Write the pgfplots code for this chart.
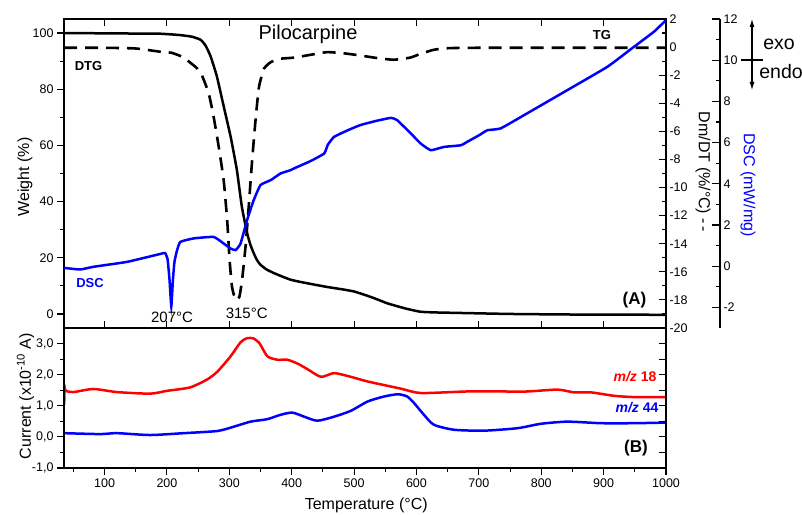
\documentclass[border=0pt]{standalone}
\usepackage{fontspec}
\setmainfont{Liberation Sans}
\usepackage{pgfplots}
\pgfplotsset{compat=1.18}
\usepackage{pgfplotstable}
\usetikzlibrary{arrows.meta}
\definecolor{myblue}{RGB}{0,0,255}
\definecolor{myred}{RGB}{255,0,0}

\pgfplotstableread{
T w
35 100
100 99.9
160 99.8
190 99.75
220 99.3
240 98.7
254 97.6
262 95.5
270 91.7
280 84.6
291 73.9
302 63.2
312 51.4
320 38.3
328.5 28.8
334 24.5
339 21.7
344 19.3
350 17.5
360 15.8
371 14.6
385 13.3
398 12.2
414 11.4
435 10.5
457 9.6
480 8.8
500 8.0
521 6.5
537 5.2
553 3.8
570 2.7
585 1.8
606 0.8
628 0.55
671 0.35
750 0.0
850 -0.2
1000 -0.3
}\tg

\pgfplotstableread{
T d
35 -0.05
100 -0.05
150 -0.1
194 -0.36
207 -0.4
225 -0.7
240 -1.2
248 -1.5
256 -2.0
267 -3.3
275 -5.0
283 -7.1
291 -9.5
296.5 -12.3
300.5 -15.2
304.4 -17.1
310 -18.0
316 -17.8
320.4 -16.6
326 -14.2
331 -11.4
336.5 -8.1
342 -5.2
347.5 -2.85
355.5 -1.54
366.5 -1.07
382 -0.83
404 -0.75
430 -0.55
457 -0.36
485 -0.45
510 -0.6
540 -0.8
564 -0.9
590 -0.75
607 -0.47
628 -0.19
650 -0.08
700 -0.05
1000 -0.05
}\dtg

\pgfplotstableread{
T s
35 -0.08
61 -0.16
82 -0.03
136 0.21
190 0.6
197 0.64
201 0.35
204 -0.6
207 -1.95
209.5 -0.7
212 0.2
216 0.75
221.5 1.18
243 1.35
275 1.42
291 1.1
302 0.86
310 0.78
318 1.1
328.5 2.24
339 3.2
350 3.94
366.5 4.18
382 4.5
398 4.66
404 4.75
430 5.1
452 5.47
458 5.9
468 6.28
490 6.6
510 6.85
535 7.05
559 7.2
569 7.09
591 6.44
607 5.95
623 5.63
644 5.79
671 5.87
681.5 6.04
700 6.35
713.6 6.6
735 6.69
778 7.43
842 8.55
906 9.68
949 10.66
981 11.39
1000 11.95
}\dsc

\pgfplotstableread{
T c
35.3 1.03
36 1.57
38 1.48
50 1.44
82 1.54
120 1.44
173 1.39
200 1.48
237 1.59
264 1.84
281 2.1
302 2.59
318 3.04
328 3.17
338 3.17
348 3.02
361 2.59
377 2.48
393 2.48
410 2.35
425 2.18
447 1.93
468 2.05
495 1.93
522 1.78
575 1.55
607 1.41
681 1.46
735 1.46
778 1.46
826 1.52
853 1.43
880 1.43
917 1.32
949 1.28
1000 1.28
}\msred

\pgfplotstableread{
T c
35 0.12
93 0.09
120 0.12
173 0.06
227 0.12
281 0.19
307.5 0.33
334 0.49
361 0.57
382 0.71
401 0.78
420 0.65
441 0.52
468 0.65
495 0.84
522 1.14
548.5 1.3
570 1.37
585 1.3
596 1.09
612 0.71
628 0.39
660 0.23
708 0.2
762 0.28
799 0.42
842 0.49
896 0.44
949 0.44
1000 0.46
}\msblue

\pgfplotsset{
  base/.style={scale only axis, width=602pt, anchor=south west,
    xmin=35, xmax=1000,
    axis line style={line width=1.3pt},
    tick style={black, line width=1.1pt},
    major tick length=7pt, minor tick length=4pt,
    tick label style={font=\fontsize{12.5}{14}\selectfont},
    /pgf/number format/assume math mode=true,
    /pgf/number format/1000 sep={},
    label style={font=\fontsize{16}{18}\selectfont},
  }
}

\begin{document}
\begin{tikzpicture}
\path[use as bounding box] (0,0) rectangle (802pt,514pt);

% TG axis (weight)
\begin{axis}[base, at={(64pt,186pt)}, height=309pt,
  ymin=-5, ymax=105, ytick={0,20,...,100}, minor ytick={10,30,...,90},
  ytick pos=left, tick align=outside, xtick=\empty,
  ylabel={Weight (\%)},
  ylabel style={at={(axis description cs:-0.065,0.489)}, anchor=center}]
\addplot[black, line width=2.5pt, smooth, tension=0.3] table {\tg};
\end{axis}

% DTG axis
\begin{axis}[base, at={(64pt,186pt)}, height=309pt,
  ymin=-20, ymax=2, ytick={-20,-18,...,2}, minor y tick num=1,
  ytick pos=right, yticklabel pos=right, tick align=inside,
  xtick={100,200,...,1000}, xticklabel=\empty, xtick pos=both]
\addplot[black, line width=2.6pt, dash pattern=on 13pt off 8pt, smooth, tension=0.3] table {\dtg};
\end{axis}

% DSC curve
\begin{axis}[base, at={(64pt,186pt)}, height=309pt,
  ymin=-3, ymax=12, hide axis]
\addplot[myblue, line width=2.5pt, smooth, tension=0.25] table {\dsc};
\end{axis}

% DSC offset axis
\begin{axis}[scale only axis, anchor=south west, at={(64pt,186pt)},
  width=656pt, height=309pt, xmin=0, xmax=1, ymin=-3, ymax=12,
  axis y line=right, axis x line=none,
  axis line style={-, line width=1.3pt},
  tick style={black, line width=1.1pt},
  major tick length=8pt, minor tick length=4pt,
  tick align=inside, ytick={-2,0,...,12}, minor y tick num=1,
  tick label style={font=\fontsize{12.5}{14}\selectfont},
  /pgf/number format/assume math mode=true]
\end{axis}

% MS panel
\begin{axis}[base, at={(64pt,46pt)}, height=140pt,
  ymin=-1, ymax=3.5, ytick={-1,0,...,3}, minor ytick={-0.5,0.5,...,2.5},
  ytick pos=left, tick align=outside,
  xtick={100,200,...,1000}, minor xtick={50,150,...,950}, xtick pos=left,
  yticklabel style={/pgf/number format/.cd, fixed, fixed zerofill, precision=1, use comma},
  xlabel={Temperature (°C)},
  xlabel style={at={(axis description cs:0.502,-0.264)}, anchor=center},
  ylabel={Current (x10\textsuperscript{-10} A)},
  ylabel style={at={(axis description cs:-0.064,0.514)}, anchor=center}]
\addplot[myred, line width=2.5pt, smooth, tension=0.4] table {\msred};
\addplot[myblue, line width=2.5pt, smooth, tension=0.4] table {\msblue};
\end{axis}

\begin{axis}[base, at={(64pt,46pt)}, height=140pt,
  ymin=-1, ymax=3.5, ytick={-0.5,0,...,3}, yticklabel=\empty,
  ytick pos=right, tick align=inside, xtick=\empty]
\end{axis}

% annotations
\node[font=\fontsize{20}{22}\selectfont] at (308pt,480pt) {Pilocarpine};
\node[font=\fontsize{13}{15}\selectfont\bfseries] at (602pt,479pt) {TG};
\node[font=\fontsize{13}{15}\selectfont\bfseries] at (88.5pt,448pt) {DTG};
\node[font=\fontsize{13}{15}\selectfont\bfseries, text=myblue] at (90pt,231pt) {DSC};
\node[font=\fontsize{15}{17}\selectfont] at (172pt,197pt) {207°C};
\node[font=\fontsize{15}{17}\selectfont] at (246.7pt,201pt) {315°C};
\node[font=\fontsize{17}{19}\selectfont\bfseries] at (634.5pt,214pt) {(A)};
\node[font=\fontsize{17}{19}\selectfont\bfseries] at (636pt,66pt) {(B)};
\node[font=\fontsize{14}{16}\selectfont\bfseries, text=myred] at (635pt,137pt) {\textit{m/z} 18};
\node[font=\fontsize{14}{16}\selectfont\bfseries, text=myblue] at (637pt,106pt) {\textit{m/z} 44};
\node[font=\fontsize{16}{18}\selectfont, rotate=-90] at (703pt,342pt) {Dm/DT (\%/°C) -\,-};
\node[font=\fontsize{16}{18}\selectfont, rotate=-90, text=myblue] at (748pt,329pt) {DSC (mW/mg)};
% exo / endo
\draw[line width=1.1pt, -{Latex[length=8pt,width=5pt]}] (752pt,454pt) -- (752pt,495pt);
\draw[line width=1.1pt, -{Latex[length=8pt,width=5pt]}] (752pt,454pt) -- (752pt,424pt);
\draw[line width=1.1pt] (741pt,454pt) -- (763pt,454pt);
\node[font=\fontsize{19.5}{21}\selectfont] at (779pt,470pt) {exo};
\node[font=\fontsize{19.5}{21}\selectfont] at (781pt,442pt) {endo};
\end{tikzpicture}
\end{document}
